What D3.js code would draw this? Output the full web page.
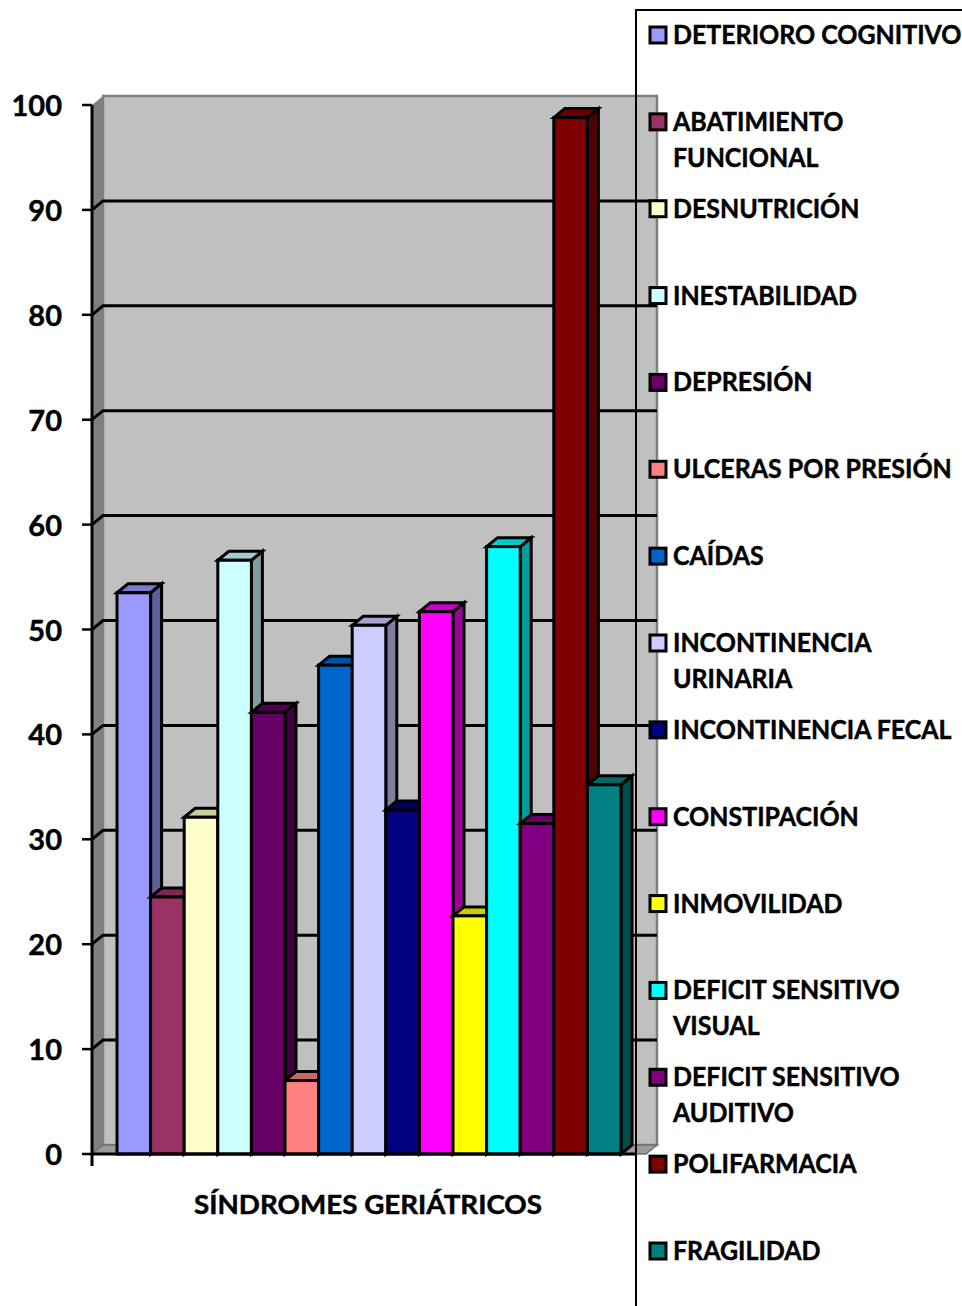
<!DOCTYPE html>
<html>
<head>
<meta charset="utf-8">
<script src="https://cdnjs.cloudflare.com/ajax/libs/d3/7.8.5/d3.min.js"></script>
<style>
html,body{margin:0;padding:0;background:#fff}
svg{display:block}
text{font-family:Lato,"Open Sans",sans-serif;font-weight:700;fill:#000;stroke:#000;stroke-width:.45px}
</style>
</head>
<body>
<svg id="chart" width="962" height="1306"></svg>
<script>
// Síndromes geriátricos, one 3D column per syndrome
const categories = ["DETERIORO COGNITIVO","ABATIMIENTO FUNCIONAL","DESNUTRICIÓN","INESTABILIDAD","DEPRESIÓN","ULCERAS POR PRESIÓN","CAÍDAS","INCONTINENCIA URINARIA","INCONTINENCIA FECAL","CONSTIPACIÓN","INMOVILIDAD","DEFICIT SENSITIVO VISUAL","DEFICIT SENSITIVO AUDITIVO","POLIFARMACIA","FRAGILIDAD"];
const values = [53.5,24.5,32.1,56.6,42.1,7,46.6,50.4,32.8,51.7,22.7,57.9,31.5,98.8,35.2];
const colors = ["#9999FF","#993366","#FFFFCC","#CCFFFF","#660066","#FF8080","#0066CC","#CCCCFF","#000080","#FF00FF","#FFFF00","#00FFFF","#800080","#800000","#008080"];
const legendLines = [["DETERIORO COGNITIVO"],["ABATIMIENTO","FUNCIONAL"],["DESNUTRICIÓN"],["INESTABILIDAD"],["DEPRESIÓN"],["ULCERAS POR PRESIÓN"],["CAÍDAS"],["INCONTINENCIA","URINARIA"],["INCONTINENCIA FECAL"],["CONSTIPACIÓN"],["INMOVILIDAD"],["DEFICIT SENSITIVO","VISUAL"],["DEFICIT SENSITIVO","AUDITIVO"],["POLIFARMACIA"],["FRAGILIDAD"]];
const yTicks = d3.range(0,101,10);
const axisTitle = "SÍNDROMES GERIÁTRICOS";

const svg = d3.select("#chart");
const depthX = 11, depthY = -9;
const plotLeft = 92, plotRight = 646, plotBottom = 1154, plotTop = 105;
const y = d3.scaleLinear().domain([0,100]).range([plotBottom,plotTop]);
const x = d3.scaleBand().domain(categories).range([117,621]);
const pts = a => a.map(p=>p.join(",")).join(" ");
const backR = plotRight + depthX;

// Walls and floor
const walls = svg.append("g");
walls.append("polygon").attr("points",pts([[plotLeft,plotTop],[plotLeft+depthX,plotTop+depthY],[plotLeft+depthX,plotBottom+depthY],[plotLeft,plotBottom]])).attr("fill","#808080");
walls.append("rect").attr("x",plotLeft+depthX).attr("y",plotTop+depthY).attr("width",plotRight-plotLeft).attr("height",plotBottom-plotTop).attr("fill","#c0c0c0").attr("stroke","#808080").attr("stroke-width",2.5);
walls.append("polygon").attr("points",pts([[plotLeft,plotBottom],[plotLeft+depthX,plotBottom+depthY],[backR,plotBottom+depthY],[plotRight,plotBottom]])).attr("fill","#9a9a9a").attr("stroke","#707070").attr("stroke-width",1.5);

// Gridlines run along the side wall and then the back wall
const grid = svg.append("g").attr("fill","none").attr("stroke","#000");
grid.selectAll("polyline").data(yTicks.filter(d=>d>0&&d<100)).join("polyline")
  .attr("points",d=>pts([[plotLeft,y(d)],[plotLeft+depthX,y(d)+depthY],[backR,y(d)+depthY]]))
  .attr("stroke-width",3);

// Columns are painted left to right so each covers its neighbour's side face
const bars = svg.selectAll("g.bar").data(categories).join("g").attr("class","bar")
  .attr("stroke","#000").attr("stroke-width",3).attr("stroke-linejoin","miter");
bars.each(function(c,i){
  const g = d3.select(this), x0 = x(c), x1 = x0 + x.bandwidth(), yt = y(values[i]), col = d3.rgb(colors[i]);
  g.append("polygon").attr("points",pts([[x1,plotBottom],[x1,yt],[x1+depthX,yt+depthY],[x1+depthX,plotBottom+depthY]]))
    .attr("fill",d3.rgb(col.r*.62,col.g*.62,col.b*.62));
  g.append("polygon").attr("points",pts([[x0,yt],[x0+depthX,yt+depthY],[x1+depthX,yt+depthY],[x1,yt]]))
    .attr("fill",d3.rgb(col.r*.8,col.g*.8,col.b*.8));
  g.append("rect").attr("x",x0).attr("y",yt).attr("width",x.bandwidth()).attr("height",plotBottom-yt).attr("fill",col);
});

// Value axis and baseline
const ax = svg.append("g").attr("stroke","#000");
ax.append("line").attr("x1",plotLeft).attr("x2",plotLeft).attr("y1",plotTop).attr("y2",plotBottom+12).attr("stroke-width",3);
ax.append("line").attr("x1",plotLeft).attr("x2",636).attr("y1",plotBottom).attr("y2",plotBottom).attr("stroke-width",3);
ax.selectAll("line.tick").data(yTicks).join("line").attr("class","tick")
  .attr("x1",plotLeft-10).attr("x2",plotLeft).attr("y1",d=>y(d)).attr("y2",d=>y(d)).attr("stroke-width",2.5);
svg.append("g").selectAll("text").data(yTicks).join("text")
  .attr("x",62).attr("y",d=>y(d)+11).attr("text-anchor","end").attr("font-size",29).text(d=>d);

svg.append("text").attr("x",368).attr("y",1214).attr("text-anchor","middle").attr("font-size",26)
  .attr("textLength",348).attr("lengthAdjust","spacingAndGlyphs").text(axisTitle);

// Legend frame, open on the right and bottom edges of the page
svg.append("polyline").attr("points",pts([[636,1306],[636,10],[962,10]])).attr("fill","none").attr("stroke","#000").attr("stroke-width",2);

const rowY = d3.scaleLinear().domain([0,categories.length-1]).range([35,1251]);
const legend = svg.selectAll("g.item").data(categories).join("g").attr("class","item")
  .attr("transform",(c,i)=>`translate(650,${rowY(i)})`);
legend.append("rect").attr("x",0).attr("y",-8).attr("width",16).attr("height",16)
  .attr("fill",(c,i)=>colors[i]).attr("stroke","#000").attr("stroke-width",3);
legend.each(function(c,i){
  d3.select(this).selectAll("text").data(legendLines[i]).join("text")
    .attr("transform",(t,k)=>`translate(23,${9+k*36}) scale(0.96,1)`)
    .attr("font-size",26).text(t=>t);
});
</script>
</body>
</html>
